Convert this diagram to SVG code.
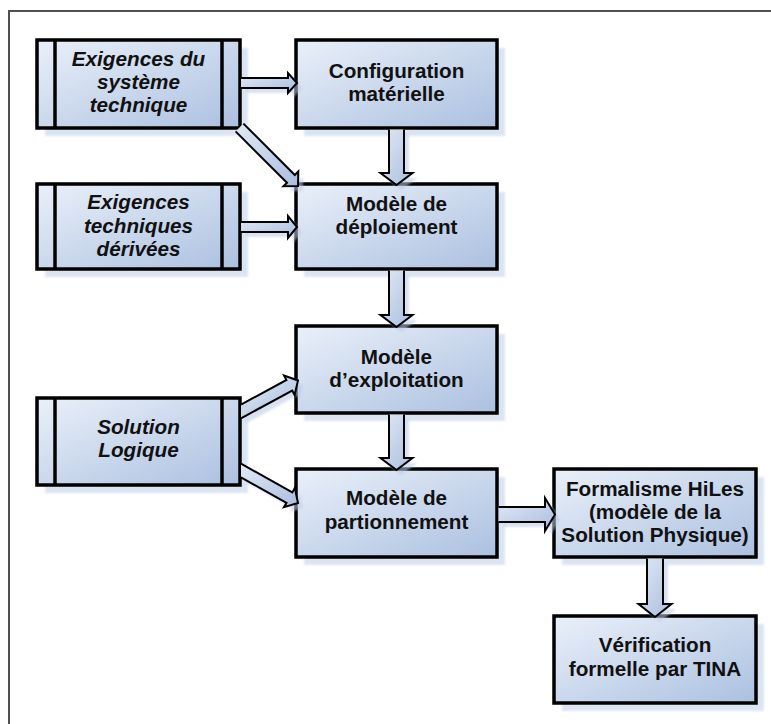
<svg xmlns="http://www.w3.org/2000/svg" xmlns:xlink="http://www.w3.org/1999/xlink" width="771" height="724" viewBox="0 0 771 724">
<defs>
<linearGradient id="boxg" x1="0" y1="0" x2="1" y2="1">
<stop offset="0" stop-color="#eaf0f9"/>
<stop offset="1" stop-color="#abc0e0"/>
</linearGradient>
<linearGradient id="arrg" x1="0" y1="0" x2="1" y2="1">
<stop offset="0" stop-color="#e2e9f5"/>
<stop offset="1" stop-color="#a9bedf"/>
</linearGradient>
<filter id="soft" x="-10%" y="-10%" width="120%" height="120%">
<feGaussianBlur stdDeviation="1.2"/>
</filter>
<path id="a1" d="M241,78 L288,78 L288,73 L297,83 L288,93 L288,88 L241,88"/>
<path id="a2" d="M241,222 L288,222 L288,216 L297,227 L288,238 L288,232 L241,232"/>
<path id="a3" d="M243.4,123.6 L294.8,175 L298.3,171.5 L298,186 L283.5,186.3 L287,182.8 L235.6,131.4"/>
<path id="v1" d="M389,129.5 L389,173 L380.5,173 L396.5,185 L412.5,173 L404,173 L404,129.5"/>
<path id="v2" d="M389,270.5 L389,315 L380.5,315 L396.5,327 L412.5,315 L404,315 L404,270.5"/>
<path id="v3" d="M389,414.5 L389,458 L380.5,458 L396.5,470 L412.5,458 L404,458 L404,414.5"/>
<path id="h1" d="M498.5,507 L545,507 L545,498 L555,514.5 L545,531 L545,522 L498.5,522"/>
<path id="v4" d="M647,558.5 L647,604 L638.5,604 L655,617 L671.5,604 L663,604 L663,558.5"/>
<path id="s1" d="M241,404.6 L286.4,380 L284.1,375.6 L298,380.5 L294.6,394.9 L292.2,390.5 L241,418.3"/>
<path id="s2" d="M241,463.7 L292.3,492.4 L294.8,488 L298,503 L284,507.2 L286.5,502.8 L241,477.4"/>
</defs>
<style>
.frame{fill:none;stroke:#505050;stroke-width:2}
.shadow{fill:#c4d4eb;opacity:0.6;filter:url(#soft)}
.box{fill:url(#boxg);stroke:#000;stroke-width:3.5}
.bar{stroke:#000;stroke-width:3.5}
.arr{fill:url(#arrg);stroke:#000;stroke-width:2;stroke-linejoin:miter}
.ash{fill:#b9cbe6;opacity:0.55;stroke:none;filter:url(#soft)}
text{font-family:"Liberation Sans",Arial,sans-serif;font-size:20.7px;font-weight:bold;fill:#111;text-anchor:middle}
.it{font-style:italic}
</style>
<rect width="771" height="724" fill="#fff"/>
<rect class="frame" x="9" y="11" width="800" height="800"/>

<g id="exigences-systeme">
<rect class="shadow" x="45" y="48" width="203" height="88"/>
<rect class="box" x="37" y="40" width="203" height="88"/>
<line class="bar" x1="55" y1="40" x2="55" y2="128"/>
<line class="bar" x1="222" y1="40" x2="222" y2="128"/>
<text class="it" x="138.5" y="66">Exigences du</text>
<text class="it" x="138.5" y="89">système</text>
<text class="it" x="138.5" y="112">technique</text>
</g>

<g id="configuration-materielle">
<rect class="shadow" x="304" y="48" width="201" height="88"/>
<rect class="box" x="296" y="40" width="201" height="88"/>
<text x="396.5" y="78">Configuration</text>
<text x="396.5" y="101">matérielle</text>
</g>

<g id="exigences-derivees">
<rect class="shadow" x="45" y="192" width="203" height="85"/>
<rect class="box" x="37" y="184" width="203" height="85"/>
<line class="bar" x1="55" y1="184" x2="55" y2="269"/>
<line class="bar" x1="222" y1="184" x2="222" y2="269"/>
<text class="it" x="138.5" y="209">Exigences</text>
<text class="it" x="138.5" y="232.5">techniques</text>
<text class="it" x="138.5" y="256">dérivées</text>
</g>

<g id="modele-deploiement">
<rect class="shadow" x="304" y="192" width="201" height="85"/>
<rect class="box" x="296" y="184" width="201" height="85"/>
<text x="396.5" y="211">Modèle de</text>
<text x="396.5" y="234">déploiement</text>
</g>

<g id="modele-exploitation">
<rect class="shadow" x="304" y="334" width="201" height="87"/>
<rect class="box" x="296" y="326" width="201" height="87"/>
<text x="396.5" y="364">Modèle</text>
<text x="396.5" y="387">d’exploitation</text>
</g>

<g id="solution-logique">
<rect class="shadow" x="45" y="406" width="203" height="87"/>
<rect class="box" x="37" y="398" width="203" height="87"/>
<line class="bar" x1="55" y1="398" x2="55" y2="485"/>
<line class="bar" x1="222" y1="398" x2="222" y2="485"/>
<text class="it" x="138.5" y="434">Solution</text>
<text class="it" x="138.5" y="457">Logique</text>
</g>

<g id="modele-partionnement">
<rect class="shadow" x="304" y="477" width="201" height="88"/>
<rect class="box" x="296" y="469" width="201" height="88"/>
<text x="396.5" y="505">Modèle de</text>
<text x="396.5" y="529">partionnement</text>
</g>

<g id="formalisme-hiles">
<rect class="shadow" x="562" y="477" width="202" height="88"/>
<rect class="box" x="554" y="469" width="202" height="88"/>
<text x="655" y="496">Formalisme HiLes</text>
<text x="655" y="519">(modèle de la</text>
<text x="655" y="542">Solution Physique)</text>
</g>

<g id="verification-tina">
<rect class="shadow" x="562" y="624" width="202" height="87"/>
<rect class="box" x="554" y="616" width="202" height="87"/>
<text x="655" y="652">Vérification</text>
<text x="655" y="676">formelle par TINA</text>
</g>

<g id="connectors">
<g transform="translate(5,5)">
<use class="ash" xlink:href="#a1"/>
<use class="ash" xlink:href="#a2"/>
<use class="ash" xlink:href="#a3"/>
<use class="ash" xlink:href="#v1"/>
<use class="ash" xlink:href="#v2"/>
<use class="ash" xlink:href="#v3"/>
<use class="ash" xlink:href="#h1"/>
<use class="ash" xlink:href="#v4"/>
<use class="ash" xlink:href="#s1"/>
<use class="ash" xlink:href="#s2"/>
</g>
<use class="arr" xlink:href="#a1"/>
<use class="arr" xlink:href="#a2"/>
<use class="arr" xlink:href="#a3"/>
<use class="arr" xlink:href="#v1"/>
<use class="arr" xlink:href="#v2"/>
<use class="arr" xlink:href="#v3"/>
<use class="arr" xlink:href="#h1"/>
<use class="arr" xlink:href="#v4"/>
<use class="arr" xlink:href="#s1"/>
<use class="arr" xlink:href="#s2"/>
</g>
</svg>
